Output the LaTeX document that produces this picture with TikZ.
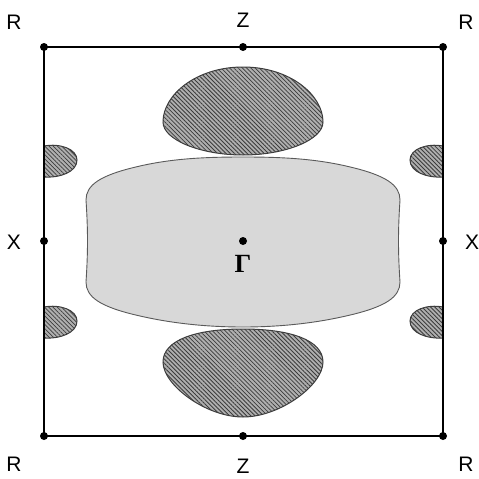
\documentclass[tikz,border=0pt]{standalone}
\usepackage{fontspec}
\setmainfont{Liberation Sans}
\newfontfamily\gammafont{Liberation Serif}
\usepackage{tikz}
\usetikzlibrary{patterns.meta}
\definecolor{pocket}{RGB}{216,216,216}
\definecolor{pocketedge}{RGB}{90,90,90}
\definecolor{hatchbg}{RGB}{175,175,175}
\definecolor{hatchln}{RGB}{60,60,60}
\tikzset{
  pt/.style      ={circle, fill=black, inner sep=0pt, minimum size=8pt},
  lbl/.style     ={inner sep=0pt, scale=2.1, transform shape},
  zone/.style    ={line width=1.3pt},
  electron/.style={fill=pocket, draw=pocketedge, line width=0.9pt},
  hole/.style    ={fill=hatchbg, draw=hatchln, line width=1pt,
                   postaction={pattern={Lines[angle=-45,distance=3pt,line width=0.8pt]},
                               pattern color=hatchln}},
}
\begin{document}
\begin{tikzpicture}[x=1pt, y=-1pt]
    \useasboundingbox (0,0) rectangle (479,479);

    % central electron pocket
    \path[electron] (86,200)
        .. controls (86,185) and (100,175) .. (140,166)
        .. controls (175,158) and (210,157) .. (243,157)
        .. controls (276,157) and (311,158) .. (346,166)
        .. controls (386,175) and (400,185) .. (400,200)
        .. controls (398,230) and (398,252) .. (400,282)
        .. controls (400,297) and (386,307) .. (346,316)
        .. controls (311,324) and (276,327) .. (243,327)
        .. controls (210,327) and (175,324) .. (140,316)
        .. controls (100,307) and (86,297) .. (86,282)
        .. controls (88,252) and (88,230) .. (86,200) -- cycle;

    % hole pockets along Z
    \path[hole] (243,67)
        .. controls (290,67) and (323,95) .. (323,122)
        .. controls (323,140) and (285,155) .. (243,155)
        .. controls (201,155) and (163,140) .. (163,122)
        .. controls (163,95) and (196,67) .. (243,67) -- cycle;
    \path[hole] (243,329)
        .. controls (290,329) and (323,340) .. (323,362)
        .. controls (323,385) and (280,417) .. (243,417)
        .. controls (206,417) and (163,385) .. (163,362)
        .. controls (163,340) and (196,329) .. (243,329) -- cycle;

    % small pockets on the zone edge
    \foreach \y in {145,306}{
      \path[hole] (44,\y+1)
          .. controls (60,\y-2) and (77,\y+4) .. (77,\y+15)
          .. controls (77,\y+27) and (60,\y+33) .. (44,\y+32) -- cycle;
      \path[hole] (443,\y+1)
          .. controls (427,\y-2) and (410,\y+4) .. (410,\y+15)
          .. controls (410,\y+27) and (427,\y+33) .. (443,\y+32) -- cycle;
    }

    % symmetry points
    \node[pt] (r1) at (44,47) {};
    \node[pt] (z1) at (243,47) {};
    \node[pt] (r2) at (443,47) {};
    \node[pt] (x1) at (44,241) {};
    \node[pt] (g)  at (243,241) {};
    \node[pt] (x2) at (443,241) {};
    \node[pt] (r3) at (44,436) {};
    \node[pt] (z2) at (243,436) {};
    \node[pt] (r4) at (443,436) {};

    % zone boundary
    \draw[zone] (r1.center) -- (r2.center) -- (r4.center) -- (r3.center) -- cycle;

    % labels
    \node[lbl] (lr1) at (14,22) {R};
    \node[lbl] (lz1) at (243,20) {Z};
    \node[lbl] (lr2) at (466,22) {R};
    \node[lbl] (lx1) at (14,242) {X};
    \node[lbl] (lx2) at (472,242) {X};
    \node[lbl] (lr3) at (14,464) {R};
    \node[lbl] (lz2) at (243,466) {Z};
    \node[lbl] (lr4) at (466,464) {R};
    \node[lbl, scale=1.25, font=\gammafont\bfseries] (lg) at (243,264) {Γ};
\end{tikzpicture}
\end{document}
